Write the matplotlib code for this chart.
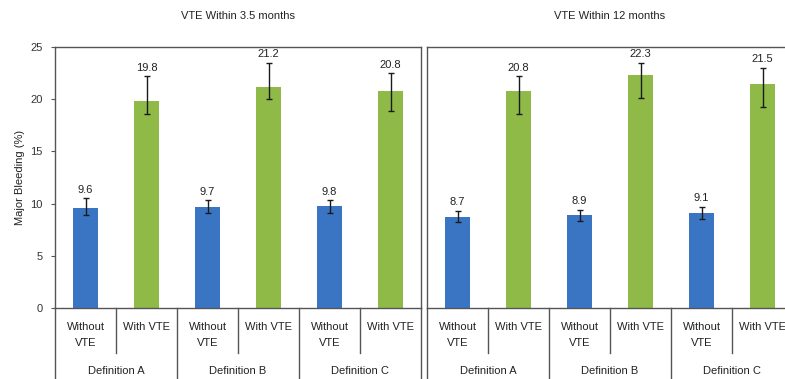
import matplotlib
matplotlib.use("Agg")
import matplotlib.pyplot as plt
import matplotlib.transforms as mtransforms
import numpy as np

plt.rcParams['font.family'] = ['Liberation Sans', 'DejaVu Sans']

panel_titles = ["VTE Within 3.5 months", "VTE Within 12 months"]
definitions = ["Definition A", "Definition B", "Definition C"]
sub_labels = ["Without\nVTE", "With VTE"]

# left panel (3.5 months)
left_without = [9.6, 9.7, 9.8]
left_without_lo = [8.9, 9.1, 9.1]
left_without_hi = [10.5, 10.3, 10.3]
left_with = [19.8, 21.2, 20.8]
left_with_lo = [18.6, 20.0, 18.9]
left_with_hi = [22.2, 23.5, 22.5]

# right panel (12 months)
right_without = [8.7, 8.9, 9.1]
right_without_lo = [8.2, 8.3, 8.5]
right_without_hi = [9.3, 9.4, 9.7]
right_with = [20.8, 22.3, 21.5]
right_with_lo = [18.6, 20.1, 19.3]
right_with_hi = [22.2, 23.5, 23.0]

yticks = [0, 5, 10, 15, 20, 25]

blue = "#3A75C4"
green = "#8FBA48"
spine_col = "#555555"

W, H = 785, 379
fig = plt.figure(figsize=(W / 100, H / 100), dpi=100)

def px_axes(x0, y_top, x1, y_bot):
    return [x0 / W, 1 - y_bot / H, (x1 - x0) / W, (y_bot - y_top) / H]

ax1 = fig.add_axes(px_axes(55, 47, 421, 308))
ax2 = fig.add_axes(px_axes(427, 47, 793, 308))

panels = [
    (ax1, left_without, left_without_lo, left_without_hi, left_with, left_with_lo, left_with_hi),
    (ax2, right_without, right_without_lo, right_without_hi, right_with, right_with_lo, right_with_hi),
]

for i, (ax, wo, wol, woh, wi, wil, wih) in enumerate(panels):
    n = len(definitions)
    x_wo = np.arange(n) * 2
    x_wi = np.arange(n) * 2 + 1
    bw = 0.41
    err_wo = [np.array(wo) - np.array(wol), np.array(woh) - np.array(wo)]
    err_wi = [np.array(wi) - np.array(wil), np.array(wih) - np.array(wi)]
    ax.bar(x_wo, wo, width=bw, color=blue, zorder=2)
    ax.bar(x_wi, wi, width=bw, color=green, zorder=2)
    ax.errorbar(x_wo, wo, yerr=err_wo, fmt='none', ecolor='#1a1a1a', elinewidth=1.0,
                capsize=2, capthick=1.0, zorder=3)
    ax.errorbar(x_wi, wi, yerr=err_wi, fmt='none', ecolor='#1a1a1a', elinewidth=1.0,
                capsize=2, capthick=1.0, zorder=3)
    for xs, vals, his in [(x_wo, wo, woh), (x_wi, wi, wih)]:
        for x, v, h in zip(xs, vals, his):
            ax.annotate(f"{v:.1f}", (x, h), xytext=(0, 2.5), textcoords='offset points',
                        ha='center', va='bottom', fontsize=8, color='#222222')
    ax.set_xlim(-0.5, 2 * n - 0.5)
    ax.set_ylim(0, 25)
    ax.set_xticks([])
    for s in ax.spines.values():
        s.set_color(spine_col)
        s.set_linewidth(1.0)
    if i == 0:
        ax.set_yticks(yticks)
        ax.set_yticklabels([str(t) for t in yticks], fontsize=8, color='#333333')
        ax.tick_params(axis='y', length=3, color=spine_col, pad=6)
        ax.set_ylabel("Major Bleeding (%)", fontsize=8, color='#222222', labelpad=4)
    else:
        ax.set_yticks([])
    ax.text(0.5, 1 + 31 / 261, panel_titles[i], transform=ax.transAxes,
            ha='center', va='center', fontsize=8, color='#222222')

    trans = mtransforms.blended_transform_factory(ax.transData, ax.transAxes)
    y_short = -(353 - 308) / 261
    y_long = -(379 - 308) / 261 - 0.02
    for k in range(2 * n + 1):
        xb = k - 0.5
        yb = y_long if k % 2 == 0 else y_short
        ax.plot([xb, xb], [0, yb], transform=trans, color=spine_col, lw=1.0,
                clip_on=False)
    for j in range(n):
        ax.text(x_wo[j], -(322 - 308) / 261, sub_labels[0], transform=trans,
                ha='center', va='top', fontsize=8, linespacing=1.75, color='#222222')
        ax.text(x_wi[j], -(322 - 308) / 261, sub_labels[1], transform=trans,
                ha='center', va='top', fontsize=8, color='#222222')
        ax.text(j * 2 + 0.5, -(371 - 308) / 261, definitions[j], transform=trans,
                ha='center', va='center', fontsize=8, color='#222222')

fig.savefig("out.png", dpi=100)
